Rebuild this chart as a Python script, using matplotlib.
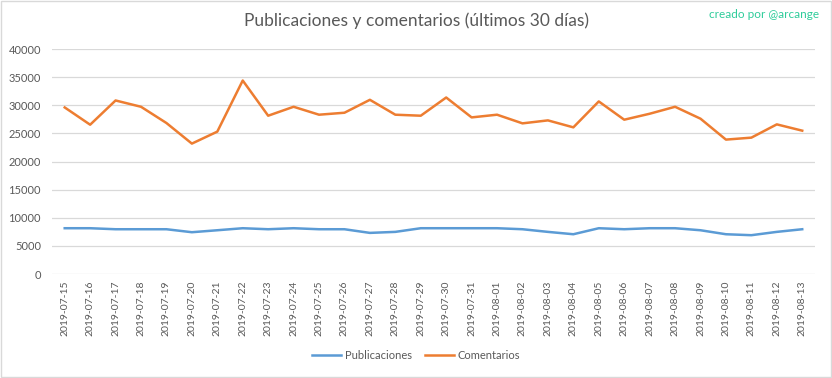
import matplotlib.pyplot as plt
import numpy as np
from matplotlib.patches import Rectangle

# Data
fechas = ['2019-07-15', '2019-07-16', '2019-07-17', '2019-07-18', '2019-07-19',
          '2019-07-20', '2019-07-21', '2019-07-22', '2019-07-23', '2019-07-24',
          '2019-07-25', '2019-07-26', '2019-07-27', '2019-07-28', '2019-07-29',
          '2019-07-30', '2019-07-31', '2019-08-01', '2019-08-02', '2019-08-03',
          '2019-08-04', '2019-08-05', '2019-08-06', '2019-08-07', '2019-08-08',
          '2019-08-09', '2019-08-10', '2019-08-11', '2019-08-12', '2019-08-13']
publicaciones = [8150, 8150, 7970, 7970, 7970, 7440, 7790, 8150, 7970, 8150,
                 7970, 7970, 7320, 7500, 8150, 8150, 8150, 8150, 7970, 7500,
                 7080, 8150, 7970, 8150, 8150, 7790, 7080, 6910, 7500, 7970]
comentarios = [29630, 26560, 30870, 29750, 26860, 23200, 25330, 34420, 28160, 29750,
               28340, 28690, 30990, 28340, 28160, 31400, 27860, 28340, 26800, 27330,
               26090, 30700, 27450, 28510, 29750, 27630, 23910, 24260, 26620, 25500]
yticks = [0, 5000, 10000, 15000, 20000, 25000, 30000, 35000, 40000]

plt.rcParams['font.family'] = ['Lato', 'DejaVu Sans']
gris = '#595959'

fig = plt.figure(figsize=(8.32, 3.78), dpi=100)
fig.patches.append(Rectangle((0.0015, 0.003), 0.997, 0.994, transform=fig.transFigure,
                             fill=False, edgecolor='#d9d9d9', linewidth=1))
ax = fig.add_axes([0.0625, 0.275, 0.917, 0.595])

x = np.arange(len(fechas))
ax.plot(x, publicaciones, color='#5b9bd5', linewidth=1.8, label='Publicaciones')
ax.plot(x, comentarios, color='#ed7d31', linewidth=1.8, label='Comentarios')

ax.set_xlim(-0.5, len(fechas) - 0.5)
ax.set_ylim(0, 40000)
ax.set_yticks(yticks)
ax.set_xticks(x)
ax.set_xticklabels(fechas, rotation=90, fontsize=7.5, color=gris)
ax.tick_params(axis='y', labelsize=8, labelcolor=gris, length=0, pad=8)
ax.tick_params(axis='x', length=0, pad=5)
ax.grid(axis='y', color='#d9d9d9', linewidth=0.9)
ax.set_axisbelow(True)
for s in ax.spines.values():
    s.set_visible(False)

fig.text(0.5, 0.945, 'Publicaciones y comentarios (últimos 30 días)', ha='center', va='center',
         fontsize=12.5, color=gris)
fig.text(0.985, 0.962, 'creado por @arcange', ha='right', va='center', fontsize=8.5,
         color='#2ecc9a')

fig.legend(loc='center', bbox_to_anchor=(0.5, 0.06), ncol=2, frameon=False, fontsize=8,
           labelcolor=gris, handlelength=2.6, columnspacing=1.2, handletextpad=0.3)

fig.savefig('out.png', dpi=100)
